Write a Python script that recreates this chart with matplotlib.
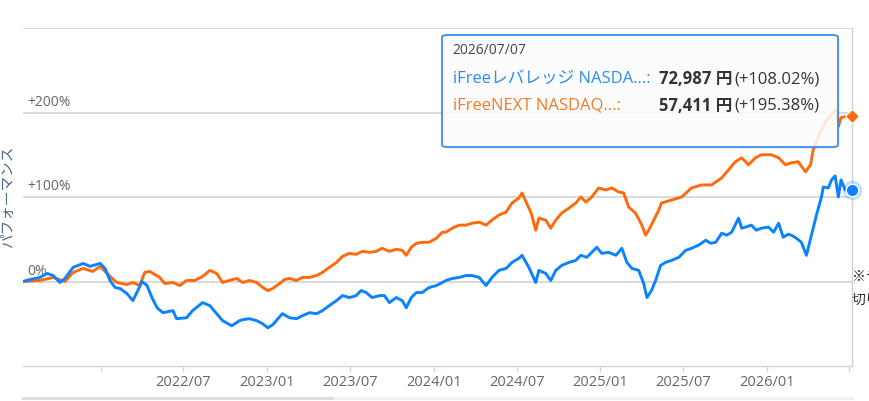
import matplotlib
matplotlib.use("Agg")
import matplotlib.pyplot as plt
import matplotlib.transforms as mtransforms
from matplotlib.patches import FancyBboxPatch
from matplotlib.lines import Line2D
import pandas as pd

# ---------------- data ----------------
blue_name = "iFreeレバレッジ NASDA...:"
orange_name = "iFreeNEXT NASDAQ...:"
tooltip_date = "2026/07/07"
blue_price = "72,987 円"
orange_price = "57,411 円"
blue_end_pct = 108.02
orange_end_pct = 195.38

blue_dates = [
    "2021-07-14", "2021-07-30", "2021-08-20", "2021-09-05", "2021-09-18", "2021-10-03", "2021-10-14",
    "2021-11-01", "2021-11-23", "2021-12-08", "2021-12-30", "2022-01-10", "2022-01-21", "2022-02-01",
    "2022-02-12", "2022-02-27", "2022-03-12", "2022-03-23", "2022-04-01", "2022-04-12", "2022-04-23",
    "2022-05-04", "2022-05-17", "2022-06-08", "2022-06-16", "2022-07-08", "2022-07-21", "2022-08-12",
    "2022-08-28", "2022-09-12", "2022-09-25", "2022-10-15", "2022-11-01", "2022-11-08", "2022-11-23",
    "2022-12-09", "2022-12-22", "2023-01-02", "2023-01-13", "2023-02-03", "2023-02-19", "2023-03-06",
    "2023-03-19", "2023-04-04", "2023-04-19", "2023-05-02", "2023-05-17", "2023-06-02", "2023-06-15",
    "2023-06-30", "2023-07-15", "2023-07-26", "2023-08-06", "2023-08-19", "2023-09-04", "2023-09-15",
    "2023-09-26", "2023-10-11", "2023-10-24", "2023-11-02", "2023-11-13", "2023-11-24", "2023-12-07",
    "2023-12-22", "2024-01-07", "2024-01-20", "2024-01-28", "2024-02-11", "2024-02-26", "2024-03-12",
    "2024-03-25", "2024-04-10", "2024-04-25", "2024-05-08", "2024-05-23", "2024-06-08", "2024-06-21",
    "2024-07-06", "2024-07-13", "2024-07-28", "2024-08-12", "2024-08-19", "2024-09-03", "2024-09-14",
    "2024-09-25", "2024-10-08", "2024-10-24", "2024-11-08", "2024-11-19", "2024-12-02", "2024-12-13",
    "2024-12-24", "2025-01-04", "2025-01-19", "2025-02-04", "2025-02-17", "2025-02-28", "2025-03-11",
    "2025-03-26", "2025-04-06", "2025-04-13", "2025-04-23", "2025-05-02", "2025-05-13", "2025-05-24",
    "2025-06-06", "2025-06-22", "2025-07-07", "2025-07-20", "2025-08-04", "2025-08-20", "2025-08-31",
    "2025-09-11", "2025-09-24", "2025-10-05", "2025-10-16", "2025-10-31", "2025-11-07", "2025-11-15",
    "2025-11-28", "2025-12-09", "2025-12-20", "2026-01-05", "2026-01-16", "2026-01-27", "2026-02-06",
    "2026-02-17", "2026-02-24", "2026-03-07", "2026-03-18", "2026-03-29", "2026-04-09", "2026-04-20",
    "2026-05-01", "2026-05-05", "2026-05-16", "2026-05-23", "2026-05-31", "2026-06-07", "2026-06-13",
    "2026-06-22", "2026-06-29", "2026-07-07",
]
blue_values = [
    0, 2.4, 4.8, 9.5, 7.1, -1.2, 3.6,
    16.7, 21.4, 17.9, 21.4, 15.5, 1.2, -7.1,
    -8.3, -14.3, -22.6, -10.7, 0, -4.8, -19.0,
    -31.0, -36.9, -34.5, -44.0, -42.9, -34.5, -25.0,
    -28.6, -38.1, -46.4, -52.4, -46.4, -45.2, -44.0,
    -46.4, -50.0, -54.8, -51.2, -38.1, -42.9, -44.0,
    -40.5, -36.9, -38.1, -34.5, -28.6, -22.6, -16.7,
    -19.0, -16.7, -10.7, -13.1, -19.0, -16.7, -16.7,
    -25.0, -19.0, -22.6, -31.0, -19.0, -13.1, -13.1,
    -7.1, -4.8, -1.2, 1.2, 3.6, 4.8, 7.1,
    7.1, 4.8, -4.8, 4.8, 13.1, 15.5, 22.6,
    27.4, 31.0, 16.7, -1.2, 13.1, 9.5, 1.2,
    13.1, 19.0, 22.6, 25.0, 31.0, 28.6, 34.5,
    40.5, 33.3, 34.5, 31.0, 39.3, 22.6, 15.5,
    13.1, -2.4, -19.0, -10.7, 1.2, 19.0, 22.6,
    25.0, 28.6, 36.9, 39.3, 42.9, 48.8, 45.2,
    46.4, 57.1, 54.8, 58.3, 75.0, 63.1, 64.3,
    66.7, 60.7, 63.1, 64.3, 58.3, 69.0, 52.4,
    56.0, 54.8, 51.2, 46.4, 31.0, 54.8, 78.6,
    100.0, 111.9, 110.7, 120.2, 125.0, 100.0, 120.2,
    108.3, 108.3, 108.02,
]

orange_dates = [
    "2021-07-14", "2021-08-20", "2021-09-18", "2021-10-14", "2021-11-01", "2021-11-23", "2021-12-14",
    "2021-12-30", "2022-01-21", "2022-02-05", "2022-02-27", "2022-03-12", "2022-03-27", "2022-04-07",
    "2022-04-18", "2022-05-10", "2022-05-21", "2022-06-08", "2022-06-23", "2022-07-08", "2022-07-26",
    "2022-08-12", "2022-08-28", "2022-09-12", "2022-09-25", "2022-10-10", "2022-10-26", "2022-11-08",
    "2022-11-23", "2022-12-09", "2022-12-22", "2023-01-02", "2023-01-13", "2023-01-28", "2023-02-08",
    "2023-02-19", "2023-03-06", "2023-03-19", "2023-04-04", "2023-04-19", "2023-05-02", "2023-05-17",
    "2023-06-02", "2023-06-15", "2023-06-30", "2023-07-15", "2023-07-29", "2023-08-13", "2023-08-28",
    "2023-09-10", "2023-09-26", "2023-10-11", "2023-10-24", "2023-11-02", "2023-11-13", "2023-11-24",
    "2023-12-07", "2023-12-22", "2024-01-07", "2024-01-20", "2024-01-28", "2024-02-11", "2024-02-26",
    "2024-03-12", "2024-03-25", "2024-04-10", "2024-04-25", "2024-05-08", "2024-05-23", "2024-06-08",
    "2024-06-21", "2024-07-06", "2024-07-13", "2024-07-22", "2024-08-02", "2024-08-12", "2024-08-19",
    "2024-09-03", "2024-09-14", "2024-09-25", "2024-10-08", "2024-10-24", "2024-11-08", "2024-11-19",
    "2024-11-30", "2024-12-13", "2024-12-28", "2025-01-13", "2025-01-26", "2025-02-10", "2025-02-21",
    "2025-03-04", "2025-03-19", "2025-04-02", "2025-04-10", "2025-04-17", "2025-04-28", "2025-05-09",
    "2025-05-15", "2025-06-06", "2025-06-28", "2025-07-20", "2025-08-11", "2025-09-02", "2025-09-24",
    "2025-10-09", "2025-10-24", "2025-11-07", "2025-11-22", "2025-12-07", "2025-12-20", "2026-01-11",
    "2026-01-27", "2026-02-11", "2026-02-24", "2026-03-11", "2026-03-27", "2026-04-07", "2026-04-13",
    "2026-04-24", "2026-05-09", "2026-05-23", "2026-06-03", "2026-06-07", "2026-06-13", "2026-06-24",
    "2026-07-07",
]
orange_values = [
    0, 1.2, 4.8, 0, 10.7, 15.5, 11.9,
    17.9, 6.0, -1.2, -3.6, -1.2, -4.8, 10.7,
    11.9, 4.8, -2.4, -1.2, -4.8, 1.2, 1.2,
    6.0, 13.1, 9.5, -1.2, 1.2, 3.6, -1.2,
    1.2, -1.2, -7.1, -10.7, -8.3, -2.4, 2.4,
    3.6, 1.2, 4.8, 4.8, 7.1, 10.7, 16.7,
    22.6, 29.8, 33.3, 32.1, 35.7, 34.5, 35.7,
    39.3, 35.7, 38.1, 36.9, 31.0, 40.5, 45.2,
    46.4, 46.4, 51.2, 58.3, 58.3, 63.1, 66.7,
    66.7, 69.0, 70.2, 66.7, 72.6, 78.6, 82.1,
    92.9, 98.8, 104.8, 94.0, 81.0, 60.7, 75.0,
    72.6, 63.1, 72.6, 81.0, 86.9, 92.9, 100.0,
    94.0, 100.0, 110.7, 108.3, 110.7, 106.0, 104.8,
    88.1, 81.0, 66.7, 54.8, 60.7, 72.6, 84.5,
    92.9, 96.4, 100.0, 110.7, 114.3, 114.3, 122.6,
    132.1, 141.7, 146.4, 138.1, 146.4, 150.0, 150.0,
    146.4, 138.1, 140.5, 141.7, 129.8, 138.1, 155.9,
    171.4, 188.1, 197.6, 203.6, 183.3, 194.0, 195.2,
    195.38,
]

y_ticks = [0, 100, 200, 300]
y_tick_labels = ["0%", "+100%", "+200%", ""]
x_tick_dates = ["2022-01-01", "2022-07-01", "2023-01-01", "2023-07-01", "2024-01-01",
                "2024-07-01", "2025-01-01", "2025-07-01", "2026-01-01", "2026-07-01"]
x_tick_labels = ["", "2022/07", "2023/01", "2023/07", "2024/01",
                 "2024/07", "2025/01", "2025/07", "2026/01", ""]
y_title = "パフォーマンス"
note_lines = ["※データ", "切り捨て"]

# ---------------- style ----------------
BLUE = "#0b82ff"
ORANGE = "#ff6a0d"
BLUE_TXT = "#2b8cf0"
ORANGE_TXT = "#f47a2a"
GRID = "#d9d9d9"
AXIS = "#ccd6eb"
LABEL = "#666666"

plt.rcParams["font.family"] = ["Open Sans", "Noto Sans CJK JP", "DejaVu Sans"]

W, H = 869, 401
fig = plt.figure(figsize=(W / 100, H / 100), dpi=100)
fig.patch.set_facecolor("white")


def fx(x):
    return x / W


def fy(y):
    return 1 - y / H


ax = fig.add_axes([fx(23), fy(366), fx(852) - fx(23), fy(28) - fy(366)])

bd = pd.to_datetime(blue_dates)
od = pd.to_datetime(orange_dates)

ax.plot(od, orange_values, color=ORANGE, lw=2.1, zorder=3, solid_joinstyle="round")
ax.plot(bd, blue_values, color=BLUE, lw=2.1, zorder=3, solid_joinstyle="round")

# end markers
ax.plot(bd[-1], blue_values[-1], "o", ms=14, color=BLUE, alpha=0.25, mec="none",
        clip_on=False, zorder=4)
ax.plot(bd[-1], blue_values[-1], "o", ms=9, color=BLUE, mec="white", mew=1,
        clip_on=False, zorder=5)
ax.plot(od[-1], orange_values[-1], "D", ms=7, color=ORANGE, mec="white", mew=0.8,
        clip_on=False, zorder=5)

ax.set_ylim(-100, 300)
ax.set_xlim(pd.Timestamp(blue_dates[0]), pd.Timestamp(blue_dates[-1]))

ax.set_yticks(y_ticks)
ax.set_yticklabels([])
ax.tick_params(axis="y", length=0)
ax.yaxis.grid(True, color=GRID, lw=1.4, zorder=0)
ax.set_axisbelow(True)

ax.set_xticks(pd.to_datetime(x_tick_dates))
ax.set_xticklabels(x_tick_labels)
ax.tick_params(axis="x", direction="out", length=4, width=1, color=AXIS,
               labelcolor=LABEL, labelsize=10.5, pad=2.5)

for s in ["top", "left", "right"]:
    ax.spines[s].set_visible(False)
ax.spines["bottom"].set_color(AXIS)
ax.spines["bottom"].set_linewidth(1)

# crosshair / right boundary at last date
ax.axvline(pd.Timestamp(blue_dates[-1]), color="#d0d0d0", lw=1, zorder=1, clip_on=False)

# y labels inside plot, above gridlines
trans = mtransforms.blended_transform_factory(ax.transAxes, ax.transData)
trans = trans + mtransforms.ScaledTranslation(0, 2 / 72, fig.dpi_scale_trans)
for v, lab in zip(y_ticks, y_tick_labels):
    if lab:
        ax.text(0.005, v, lab, transform=trans, ha="left", va="bottom",
                fontsize=10, color=LABEL, zorder=1)

# y title
fig.text(fx(8), fy(197), y_title, rotation=90, ha="center", va="center",
         fontsize=10.5, color="#4a6785", family=["Noto Sans CJK JP", "DejaVu Sans"])

# note on the right (cut off by the image edge, as in the reference)
fig.text(fx(852), fy(277), note_lines[0], ha="left", va="center", fontsize=10,
         color="#333333", family=["Noto Sans CJK JP", "DejaVu Sans"])
fig.text(fx(852), fy(300), note_lines[1], ha="left", va="center", fontsize=10,
         color="#333333", family=["Noto Sans CJK JP", "DejaVu Sans"])

# navigator strip at bottom
fig.add_artist(Line2D([fx(23), fx(335)], [fy(397.5), fy(397.5)], color="#dedede", lw=2.2))
fig.add_artist(Line2D([fx(335), fx(852)], [fy(397.5), fy(397.5)], color="#f1f1f1", lw=2.2))

# tooltip
shadow = FancyBboxPatch((fx(444), fy(149)), fx(838) - fx(442), fy(35) - fy(147),
                        boxstyle="round,pad=0,rounding_size=0.006", transform=fig.transFigure,
                        facecolor="#000000", alpha=0.06, edgecolor="none", zorder=9)
fig.add_artist(shadow)
box = FancyBboxPatch((fx(442), fy(147)), fx(838) - fx(442), fy(35) - fy(147),
                     boxstyle="round,pad=0,rounding_size=0.006", transform=fig.transFigure,
                     facecolor=(1, 1, 1, 0.86), edgecolor="#3d8fe6", lw=1.3, zorder=10)
fig.add_artist(box)

fig.text(fx(452), fy(51), tooltip_date, ha="left", va="center", fontsize=10,
         color="#444444", zorder=11)
fig.text(fx(453), fy(79), blue_name, ha="left", va="center", fontsize=12,
         color=BLUE_TXT, zorder=11)
fig.text(fx(453), fy(106), orange_name, ha="left", va="center", fontsize=12,
         color=ORANGE_TXT, zorder=11)
fig.text(fx(732), fy(79), blue_price, ha="right", va="center", fontsize=12,
         color="#333333", fontweight="bold", zorder=11)
fig.text(fx(732), fy(106), orange_price, ha="right", va="center", fontsize=12,
         color="#333333", fontweight="bold", zorder=11)
fig.text(fx(734), fy(79), f"(+{blue_end_pct:.2f}%)", ha="left", va="center",
         fontsize=12, color="#333333", zorder=11)
fig.text(fx(734), fy(106), f"(+{orange_end_pct:.2f}%)", ha="left", va="center",
         fontsize=12, color="#333333", zorder=11)

fig.savefig("out.png", dpi=100, facecolor="white")
